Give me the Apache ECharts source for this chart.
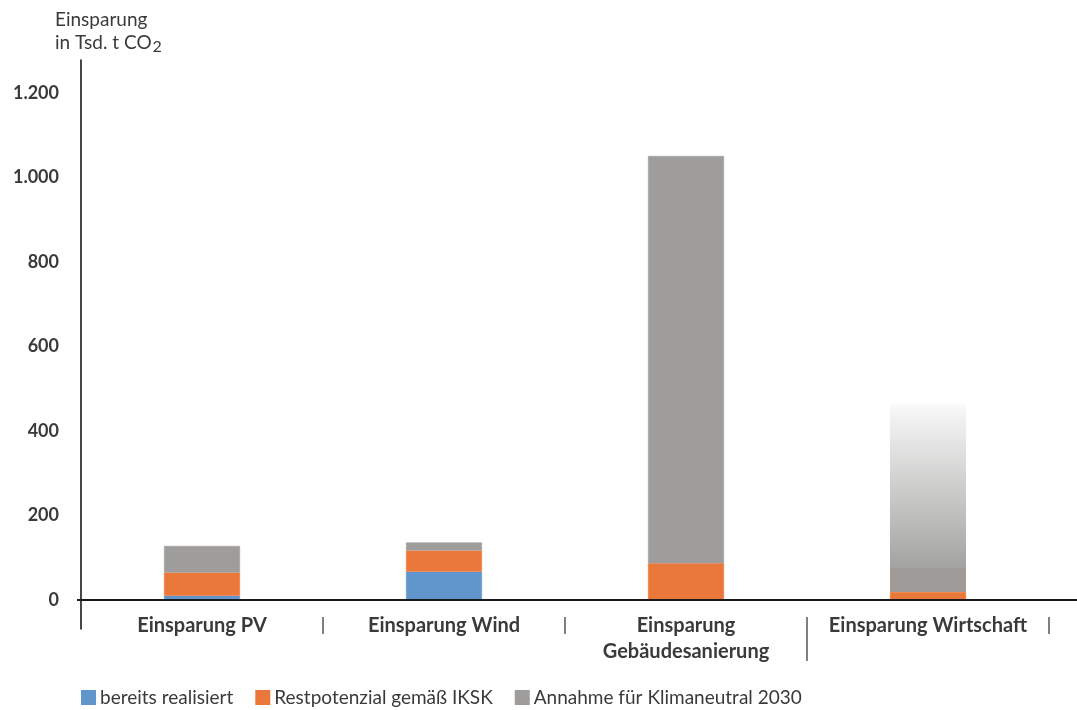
<!DOCTYPE html>
<html lang="de">
<head>
<meta charset="utf-8">
<title>Einsparung in Tsd. t CO₂</title>
<script src="https://cdn.jsdelivr.net/npm/echarts@6/dist/echarts.min.js"></script>
<style>
  html, body { margin: 0; padding: 0; background: #ffffff; }
  #chart { width: 1077px; height: 710px; }
</style>
</head>
<body>
<div id="chart"></div>
<script>
// Kategorien der Einsparbereiche
const categories = ['Einsparung PV', 'Einsparung Wind', 'Einsparung\nGebäudesanierung', 'Einsparung Wirtschaft'];
// Einsparung in Tsd. t CO2 je Kategorie
const bereitsRealisiert = [10, 67, 0, 0];
const restpotenzial = [55, 50, 87, 19];
const annahme = [63, 19, 964, 450];
// Anteil des Annahme-Balkens "Wirtschaft", der als fester Sockel gezeichnet wird
const wirtschaftSockel = 57;
const yTicks = [0, 200, 400, 600, 800, 1000, 1200];
const legendNames = ['bereits realisiert', 'Restpotenzial gemäß IKSK', 'Annahme für Klimaneutral 2030'];

const FONT = 'Lato';
const TEXT = '#3c3a38';
const BLUE = '#6096cc';
const ORANGE = '#eb783b';
const GREY = '#9e9d9b';

const fmt = v => v.toLocaleString('de-DE');

// Verlauf für den geschätzten Wirtschafts-Anteil: fester Sockel, darüber Auslaufen ins Weiße
function wirtschaftGradient(total, sockel) {
  const s = 1 - sockel / total;
  return new echarts.graphic.LinearGradient(0, 0, 0, 1, [
    { offset: 0, color: 'rgba(255,255,255,1)' },
    { offset: 0.03, color: '#f7f7f7' },
    { offset: s - 0.001, color: '#a3a3a1' },
    { offset: s, color: '#9d9a97' },
    { offset: 1, color: '#9d9a97' }
  ]);
}

const annahmeData = annahme.map((v, i) =>
  i === 3
    ? { value: v, itemStyle: { color: wirtschaftGradient(v, wirtschaftSockel), borderWidth: 0 } }
    : v
);

// gleichfarbiger Rand, damit zwischen gestapelten Segmenten keine hellen Fugen entstehen
const solid = c => ({ color: c, borderColor: c, borderWidth: 0.6 });

const chart = echarts.init(document.getElementById('chart'), null, { renderer: 'canvas' });

chart.setOption({
  animation: false,
  backgroundColor: '#ffffff',
  textStyle: { fontFamily: FONT },
  title: {
    text: 'Einsparung\nin Tsd. t CO{sub|2}',
    left: 50, top: 3,
    textStyle: {
      fontFamily: FONT, fontSize: 19, fontWeight: 'normal', color: TEXT, lineHeight: 23,
      rich: {
        sub: { fontFamily: FONT, fontSize: 16, color: TEXT, lineHeight: 23, padding: [8, 0, 0, 1] }
      }
    }
  },
  legend: {
    data: legendNames,
    left: 76, top: 683,
    icon: 'rect', itemWidth: 13, itemHeight: 13, itemGap: 22,
    textStyle: { fontFamily: FONT, fontSize: 19, color: TEXT }
  },
  grid: [
    // Balkenbereich
    { left: 81, right: 28, top: 93, bottom: 110 },
    // Hilfslinien und Nulllinie über die volle Breite
    { left: 81, right: 0, top: 93, bottom: 110 },
    // verlängerte senkrechte Achse
    { left: 81, right: 0, top: 60, bottom: 81 }
  ],
  xAxis: [
    {
      type: 'category', gridIndex: 0, data: categories,
      axisLine: { show: false }, axisTick: { show: false },
      axisLabel: {
        interval: 0, margin: 13, fontFamily: FONT, fontSize: 20, fontWeight: 'bold',
        color: TEXT, lineHeight: 26, align: 'center'
      }
    },
    // Trennstriche zwischen den Kategorien
    {
      type: 'value', gridIndex: 0, min: 0, max: categories.length, position: 'bottom', offset: 17,
      axisLine: { show: false }, splitLine: { show: false }, axisLabel: { show: false },
      axisTick: { show: true, length: 17, customValues: [1, 2, 4], lineStyle: { color: '#5a5654', width: 1.5 } }
    },
    {
      type: 'value', gridIndex: 0, min: 0, max: categories.length, position: 'bottom', offset: 17,
      axisLine: { show: false }, splitLine: { show: false }, axisLabel: { show: false },
      axisTick: { show: true, length: 44, customValues: [3], lineStyle: { color: '#5a5654', width: 1.5 } }
    },
    {
      type: 'value', gridIndex: 1, min: 0, max: 1, z: 5,
      axisLine: { show: true, onZero: true, lineStyle: { color: '#1a1a1a', width: 2 } },
      axisTick: { show: false }, axisLabel: { show: false }, splitLine: { show: false }
    },
    { type: 'value', gridIndex: 2, show: false }
  ],
  yAxis: [
    { type: 'value', gridIndex: 0, min: 0, max: 1200, show: false },
    {
      type: 'value', gridIndex: 1, min: 0, max: 1200, interval: 200,
      axisLine: { show: false },
      axisTick: { show: true, customValues: [0], length: 4, lineStyle: { color: '#1a1a1a', width: 2 } },
      axisLabel: {
        margin: 22, fontFamily: FONT, fontSize: 18, fontWeight: 'bold', color: TEXT,
        customValues: yTicks, formatter: v => fmt(v)
      },
      splitLine: { show: true, lineStyle: { color: '#a5a5a5', width: 1, type: [1.2, 2] } }
    },
    {
      type: 'value', gridIndex: 2, min: 0, max: 1,
      axisLine: { show: true, lineStyle: { color: '#1a1a1a', width: 1.6 } },
      axisTick: { show: false }, axisLabel: { show: false }, splitLine: { show: false }
    }
  ],
  series: [
    {
      name: legendNames[0], type: 'bar', stack: 'co2', xAxisIndex: 0, yAxisIndex: 0,
      barWidth: 76, itemStyle: solid(BLUE), data: bereitsRealisiert
    },
    {
      name: legendNames[1], type: 'bar', stack: 'co2', xAxisIndex: 0, yAxisIndex: 0,
      barWidth: 76, itemStyle: solid(ORANGE), data: restpotenzial
    },
    {
      name: legendNames[2], type: 'bar', stack: 'co2', xAxisIndex: 0, yAxisIndex: 0,
      barWidth: 76, itemStyle: solid(GREY), data: annahmeData
    }
  ]
});
</script>
</body>
</html>
